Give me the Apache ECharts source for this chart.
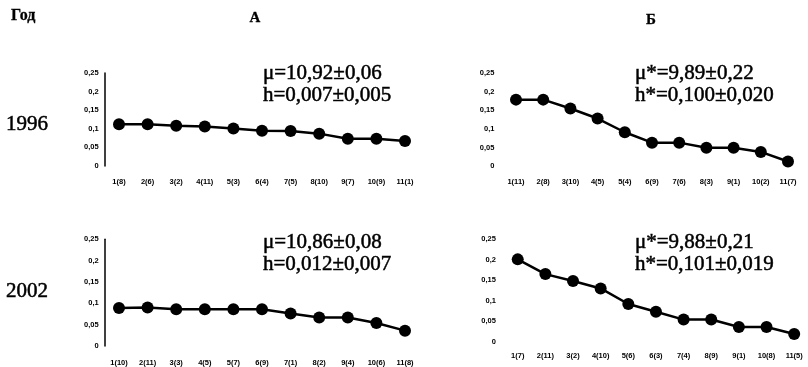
<!DOCTYPE html>
<html>
<head>
<meta charset="utf-8">
<script src="https://cdn.jsdelivr.net/npm/echarts@6/dist/echarts.min.js"></script>
<style>
  html, body { margin: 0; padding: 0; background: #fff; }
</style>
</head>
<body>
<div id="chart" style="width: 808px;height:367px"></div>
<script>
// rank labels under each panel: position(rank)
const catA1996 = ['1(8)', '2(6)', '3(2)', '4(11)', '5(3)', '6(4)', '7(5)', '8(10)', '9(7)', '10(9)', '11(1)']
const catB1996 = ['1(11)', '2(8)', '3(10)', '4(5)', '5(4)', '6(9)', '7(6)', '8(3)', '9(1)', '10(2)', '11(7)']
const catA2002 = ['1(10)', '2(11)', '3(3)', '4(5)', '5(7)', '6(9)', '7(1)', '8(2)', '9(4)', '10(6)', '11(8)']
const catB2002 = ['1(7)', '2(11)', '3(2)', '4(10)', '5(6)', '6(3)', '7(4)', '8(9)', '9(1)', '10(8)', '11(5)']

const valA1996 = [0.112, 0.112, 0.108, 0.106, 0.101, 0.095, 0.094, 0.087, 0.073, 0.073, 0.067]
const valB1996 = [0.179, 0.179, 0.155, 0.128, 0.091, 0.063, 0.063, 0.049, 0.049, 0.038, 0.012]
const valA2002 = [0.089, 0.090, 0.086, 0.086, 0.086, 0.086, 0.076, 0.067, 0.067, 0.054, 0.036]
const valB2002 = [0.201, 0.165, 0.148, 0.130, 0.092, 0.073, 0.054, 0.054, 0.036, 0.036, 0.019]

const statsA1996 = ['μ=10,92±0,06', 'h=0,007±0,005']
const statsB1996 = ['μ*=9,89±0,22', 'h*=0,100±0,020']
const statsA2002 = ['μ=10,86±0,08', 'h=0,012±0,007']
const statsB2002 = ['μ*=9,88±0,21', 'h*=0,101±0,019']

const panels = [
  { cats: catA1996, vals: valA1996, stats: statsA1996, grid: { left: 104.7, top: 73, width: 314.6, height: 93 }, axisLine: true, labelMargin: 12, tx: 263, ty: 73 },
  { cats: catB1996, vals: valB1996, stats: statsB1996, grid: { left: 502.4, top: 73.3, width: 299.2, height: 92.7 }, axisLine: false, labelMargin: 12, tx: 635, ty: 73 },
  { cats: catA2002, vals: valA2002, stats: statsA2002, grid: { left: 104.7, top: 239.3, width: 314.6, height: 108 }, axisLine: true, labelMargin: 13, tx: 263, ty: 242 },
  { cats: catB2002, vals: valB2002, stats: statsB2002, grid: { left: 503.9, top: 239.3, width: 304.3, height: 102.4 }, axisLine: false, labelMargin: 10, tx: 635, ty: 242 }
]

const tinyFont = { color: '#000', fontSize: 7.5, fontWeight: 900, fontFamily: 'Liberation Sans, Arial, sans-serif' }

function txt (text, x, y, size, bold, align) {
  return {
    type: 'text',
    x: x,
    y: y,
    style: {
      text: text,
      fill: '#000',
      stroke: '#000',
      lineWidth: bold ? 0.3 : 0.5,
      font: (bold ? 'bold ' : '') + size + 'px "Liberation Serif", "Times New Roman", serif',
      textAlign: align || 'left',
      textVerticalAlign: 'middle'
    }
  }
}

let mychart = echarts.init(document.getElementById('chart'))

let graphics = [
  txt('Год', 11, 16, 16, true),
  txt('A', 255, 18, 15, true, 'center'),
  txt('Б', 651, 20, 15, true, 'center'),
  txt('1996', 6, 124, 21, false),
  txt('2002', 6, 291, 21, false)
]
panels.forEach(function (p) {
  graphics.push(txt(p.stats[0], p.tx, p.ty, 21, false))
  graphics.push(txt(p.stats[1], p.tx, p.ty + 22, 21, false))
})

mychart.setOption({
  backgroundColor: '#fff',
  animation: false,
  grid: panels.map(function (p) { return p.grid }),
  xAxis: panels.map(function (p, i) {
    return {
      type: 'category',
      gridIndex: i,
      data: p.cats,
      boundaryGap: true,
      axisLine: { show: false },
      axisTick: { show: false },
      axisLabel: Object.assign({ interval: 0, margin: p.labelMargin }, tinyFont)
    }
  }),
  yAxis: panels.map(function (p, i) {
    return {
      type: 'value',
      gridIndex: i,
      min: 0,
      max: 0.25,
      interval: 0.05,
      splitLine: { show: false },
      axisTick: { show: false },
      axisLine: { show: p.axisLine, lineStyle: { color: '#000', width: 1.5 } },
      axisLabel: Object.assign({
        margin: p.axisLine ? 6 : 8,
        formatter: function (v) { return String(+v.toFixed(2)).replace('.', ',') }
      }, tinyFont)
    }
  }),
  series: panels.map(function (p, i) {
    return {
      type: 'line',
      xAxisIndex: i,
      yAxisIndex: i,
      data: p.vals,
      symbol: 'circle',
      symbolSize: 12,
      itemStyle: { color: '#000' },
      lineStyle: { color: '#000', width: 2.5 }
    }
  }),
  graphic: graphics
})
</script>
</body>
</html>
